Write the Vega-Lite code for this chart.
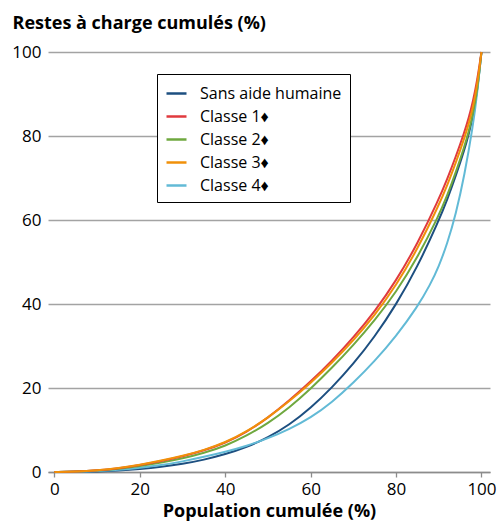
{
  "$schema": "https://vega.github.io/schema/vega-lite/v6.json",
  "width": 442,
  "height": 420,
  "autosize": "none",
  "padding": {"left": 48, "top": 52, "right": 8, "bottom": 52},
  "config": {"font": "Open Sans", "view": {"stroke": null}},
  "data": {"values": [
    {"s": "Sans aide humaine", "p": 0, "v": 0}, {"s": "Sans aide humaine", "p": 5, "v": 0.03}, {"s": "Sans aide humaine", "p": 10, "v": 0.12}, {"s": "Sans aide humaine", "p": 15, "v": 0.35}, {"s": "Sans aide humaine", "p": 20, "v": 0.7}, {"s": "Sans aide humaine", "p": 25, "v": 1.2}, {"s": "Sans aide humaine", "p": 30, "v": 1.9}, {"s": "Sans aide humaine", "p": 35, "v": 2.9}, {"s": "Sans aide humaine", "p": 40, "v": 4.2}, {"s": "Sans aide humaine", "p": 45, "v": 5.9}, {"s": "Sans aide humaine", "p": 50, "v": 8.2}, {"s": "Sans aide humaine", "p": 55, "v": 11.2}, {"s": "Sans aide humaine", "p": 60, "v": 15.2}, {"s": "Sans aide humaine", "p": 65, "v": 20.1}, {"s": "Sans aide humaine", "p": 70, "v": 25.7}, {"s": "Sans aide humaine", "p": 75, "v": 32.2}, {"s": "Sans aide humaine", "p": 80, "v": 39.8}, {"s": "Sans aide humaine", "p": 85, "v": 48.8}, {"s": "Sans aide humaine", "p": 90, "v": 59.8}, {"s": "Sans aide humaine", "p": 92, "v": 64.9}, {"s": "Sans aide humaine", "p": 94, "v": 70.5}, {"s": "Sans aide humaine", "p": 96, "v": 76.7}, {"s": "Sans aide humaine", "p": 97, "v": 80.3}, {"s": "Sans aide humaine", "p": 98, "v": 84.7}, {"s": "Sans aide humaine", "p": 99, "v": 90.5}, {"s": "Sans aide humaine", "p": 100, "v": 100},
    {"s": "Classe 4♦", "p": 0, "v": 0}, {"s": "Classe 4♦", "p": 5, "v": 0.05}, {"s": "Classe 4♦", "p": 10, "v": 0.2}, {"s": "Classe 4♦", "p": 15, "v": 0.5}, {"s": "Classe 4♦", "p": 20, "v": 1.0}, {"s": "Classe 4♦", "p": 25, "v": 1.6}, {"s": "Classe 4♦", "p": 30, "v": 2.5}, {"s": "Classe 4♦", "p": 35, "v": 3.6}, {"s": "Classe 4♦", "p": 40, "v": 4.8}, {"s": "Classe 4♦", "p": 45, "v": 6.2}, {"s": "Classe 4♦", "p": 50, "v": 8.0}, {"s": "Classe 4♦", "p": 55, "v": 10.2}, {"s": "Classe 4♦", "p": 60, "v": 12.9}, {"s": "Classe 4♦", "p": 65, "v": 16.6}, {"s": "Classe 4♦", "p": 70, "v": 21.2}, {"s": "Classe 4♦", "p": 75, "v": 26.4}, {"s": "Classe 4♦", "p": 80, "v": 32.3}, {"s": "Classe 4♦", "p": 85, "v": 39.3}, {"s": "Classe 4♦", "p": 88, "v": 44.6}, {"s": "Classe 4♦", "p": 90, "v": 48.9}, {"s": "Classe 4♦", "p": 92, "v": 54.4}, {"s": "Classe 4♦", "p": 94, "v": 61.4}, {"s": "Classe 4♦", "p": 96, "v": 70.5}, {"s": "Classe 4♦", "p": 98, "v": 82.3}, {"s": "Classe 4♦", "p": 99, "v": 90.0}, {"s": "Classe 4♦", "p": 100, "v": 100},
    {"s": "Classe 2♦", "p": 0, "v": 0}, {"s": "Classe 2♦", "p": 5, "v": 0.08}, {"s": "Classe 2♦", "p": 10, "v": 0.3}, {"s": "Classe 2♦", "p": 15, "v": 0.75}, {"s": "Classe 2♦", "p": 20, "v": 1.4}, {"s": "Classe 2♦", "p": 25, "v": 2.2}, {"s": "Classe 2♦", "p": 30, "v": 3.2}, {"s": "Classe 2♦", "p": 35, "v": 4.5}, {"s": "Classe 2♦", "p": 40, "v": 6.2}, {"s": "Classe 2♦", "p": 45, "v": 8.6}, {"s": "Classe 2♦", "p": 50, "v": 11.6}, {"s": "Classe 2♦", "p": 55, "v": 15.3}, {"s": "Classe 2♦", "p": 60, "v": 19.8}, {"s": "Classe 2♦", "p": 65, "v": 24.8}, {"s": "Classe 2♦", "p": 70, "v": 30.2}, {"s": "Classe 2♦", "p": 75, "v": 36.1}, {"s": "Classe 2♦", "p": 80, "v": 42.8}, {"s": "Classe 2♦", "p": 85, "v": 51.0}, {"s": "Classe 2♦", "p": 90, "v": 61.0}, {"s": "Classe 2♦", "p": 92, "v": 65.85}, {"s": "Classe 2♦", "p": 94, "v": 71.35}, {"s": "Classe 2♦", "p": 96, "v": 77.45}, {"s": "Classe 2♦", "p": 97, "v": 80.95}, {"s": "Classe 2♦", "p": 98, "v": 85.15}, {"s": "Classe 2♦", "p": 99, "v": 90.55}, {"s": "Classe 2♦", "p": 100, "v": 100},
    {"s": "Classe 1♦", "p": 0, "v": 0}, {"s": "Classe 1♦", "p": 5, "v": 0.09}, {"s": "Classe 1♦", "p": 10, "v": 0.35}, {"s": "Classe 1♦", "p": 15, "v": 0.85}, {"s": "Classe 1♦", "p": 20, "v": 1.6}, {"s": "Classe 1♦", "p": 25, "v": 2.6}, {"s": "Classe 1♦", "p": 30, "v": 3.7}, {"s": "Classe 1♦", "p": 35, "v": 5.1}, {"s": "Classe 1♦", "p": 40, "v": 6.9}, {"s": "Classe 1♦", "p": 45, "v": 9.5}, {"s": "Classe 1♦", "p": 50, "v": 12.9}, {"s": "Classe 1♦", "p": 55, "v": 17.0}, {"s": "Classe 1♦", "p": 60, "v": 21.5}, {"s": "Classe 1♦", "p": 65, "v": 26.5}, {"s": "Classe 1♦", "p": 70, "v": 32.0}, {"s": "Classe 1♦", "p": 75, "v": 38.2}, {"s": "Classe 1♦", "p": 80, "v": 45.5}, {"s": "Classe 1♦", "p": 85, "v": 54.3}, {"s": "Classe 1♦", "p": 90, "v": 64.9}, {"s": "Classe 1♦", "p": 92, "v": 69.8}, {"s": "Classe 1♦", "p": 94, "v": 75.1}, {"s": "Classe 1♦", "p": 96, "v": 80.9}, {"s": "Classe 1♦", "p": 97, "v": 84.2}, {"s": "Classe 1♦", "p": 98, "v": 88.2}, {"s": "Classe 1♦", "p": 99, "v": 93.2}, {"s": "Classe 1♦", "p": 100, "v": 100},
    {"s": "Classe 3♦", "p": 0, "v": 0}, {"s": "Classe 3♦", "p": 5, "v": 0.1}, {"s": "Classe 3♦", "p": 10, "v": 0.4}, {"s": "Classe 3♦", "p": 15, "v": 0.9}, {"s": "Classe 3♦", "p": 20, "v": 1.7}, {"s": "Classe 3♦", "p": 25, "v": 2.7}, {"s": "Classe 3♦", "p": 30, "v": 3.8}, {"s": "Classe 3♦", "p": 35, "v": 5.2}, {"s": "Classe 3♦", "p": 40, "v": 7.0}, {"s": "Classe 3♦", "p": 45, "v": 9.6}, {"s": "Classe 3♦", "p": 50, "v": 12.9}, {"s": "Classe 3♦", "p": 55, "v": 16.8}, {"s": "Classe 3♦", "p": 60, "v": 21.2}, {"s": "Classe 3♦", "p": 65, "v": 26.0}, {"s": "Classe 3♦", "p": 70, "v": 31.3}, {"s": "Classe 3♦", "p": 75, "v": 37.3}, {"s": "Classe 3♦", "p": 80, "v": 44.4}, {"s": "Classe 3♦", "p": 85, "v": 53.0}, {"s": "Classe 3♦", "p": 90, "v": 63.5}, {"s": "Classe 3♦", "p": 92, "v": 68.3}, {"s": "Classe 3♦", "p": 94, "v": 73.6}, {"s": "Classe 3♦", "p": 96, "v": 79.5}, {"s": "Classe 3♦", "p": 97, "v": 82.8}, {"s": "Classe 3♦", "p": 98, "v": 86.8}, {"s": "Classe 3♦", "p": 99, "v": 92.0}, {"s": "Classe 3♦", "p": 100, "v": 100}
  ]},
  "mark": {"type": "line", "strokeWidth": 2, "interpolate": "basis"},
  "encoding": {
    "x": {
      "field": "p", "type": "quantitative",
      "scale": {"domain": [-1.5, 102], "nice": false, "zero": false},
      "axis": {
        "values": [0, 20, 40, 60, 80, 100],
        "title": "Population cumulée (%)",
        "titleFontWeight": "bold", "titleFontSize": 18, "titleColor": "#000", "titlePadding": 5,
        "labelFontSize": 17, "labelColor": "#000", "labelPadding": 4, "labelFlush": false,
        "domainColor": "#8c8c8c", "domainWidth": 1.3, "tickColor": "#8c8c8c", "tickSize": 5, "tickWidth": 1.3,
        "grid": false
      }
    },
    "y": {
      "field": "v", "type": "quantitative",
      "scale": {"domain": [0, 100], "nice": false},
      "axis": {
        "values": [0, 20, 40, 60, 80, 100],
        "domain": false, "ticks": false,
        "grid": true, "gridColor": "#a3a3a3", "gridWidth": 1.3,
        "labelFontSize": 17, "labelColor": "#000", "labelPadding": 7,
        "title": "Restes à charge cumulés (%)",
        "titleAngle": 0, "titleAlign": "left", "titleBaseline": "alphabetic",
        "titleX": -36, "titleY": -24,
        "titleFontWeight": "bold", "titleFontSize": 18, "titleColor": "#000"
      }
    },
    "color": {
      "field": "s", "type": "nominal",
      "scale": {
        "domain": ["Sans aide humaine", "Classe 1♦", "Classe 2♦", "Classe 3♦", "Classe 4♦"],
        "range": ["#1d4f80", "#e03a3e", "#6fa83f", "#f0900a", "#62bad6"]
      },
      "legend": {
        "orient": "none", "legendX": 109, "legendY": 22,
        "title": null,
        "strokeColor": "#000", "fillColor": "#fff", "padding": 8,
        "symbolType": "stroke", "symbolSize": 400, "symbolStrokeWidth": 2.5,
        "labelFontSize": 16, "labelColor": "#000", "labelOffset": 12, "rowPadding": 3
      }
    }
  }
}
